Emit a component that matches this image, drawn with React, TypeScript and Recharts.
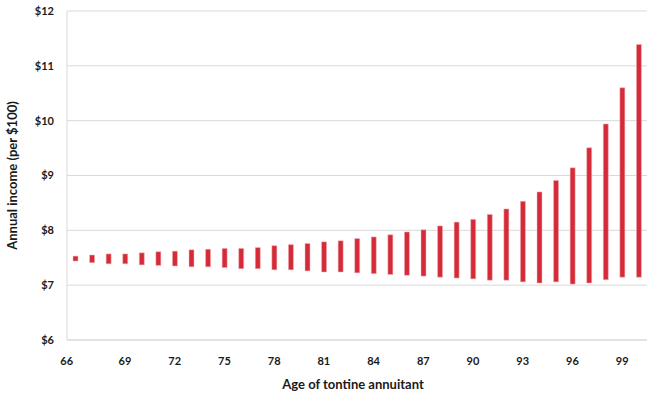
import React from 'react';
import { BarChart, Bar, XAxis, YAxis, CartesianGrid } from 'recharts';

const ages = [66,67,68,69,70,71,72,73,74,75,76,77,78,79,80,81,82,83,84,85,86,87,88,89,90,91,92,93,94,95,96,97,98,99,100];
const lows = [7.44,7.41,7.39,7.39,7.37,7.36,7.35,7.335,7.335,7.32,7.30,7.30,7.28,7.28,7.26,7.24,7.24,7.225,7.21,7.195,7.18,7.165,7.145,7.13,7.115,7.09,7.09,7.06,7.04,7.06,7.02,7.04,7.10,7.145,7.145];
const highs = [7.53,7.55,7.57,7.57,7.59,7.61,7.62,7.645,7.655,7.67,7.67,7.686,7.72,7.74,7.76,7.79,7.81,7.85,7.88,7.92,7.97,8.01,8.08,8.15,8.20,8.29,8.39,8.53,8.70,8.91,9.14,9.505,9.94,10.60,11.39];
const yTicks = [6,7,8,9,10,11,12];

const data = ages.map((age, i) => ({ age, range: [lows[i], highs[i]] }));

const FONT = 'Lato, "Open Sans", sans-serif';
const TXT = '#1a1a1a';

const XTick = (props: any) => {
  const { x, y, payload, index } = props;
  const shift = index === 0 ? -8.6 : 0;
  return (
    <text x={x + shift} y={y} dy="0.71em" textAnchor="middle" fontFamily={FONT} fontWeight={700} fontSize={11} fill={TXT}>
      {payload.value}
    </text>
  );
};

export default function App() {
  return (
    <div style={{ position: 'absolute', left: 0, top: 0, width: 660, height: 395, background: '#fff' }}>
      <BarChart width={660} height={395} data={data} margin={{ top: 11, right: 13, bottom: 0, left: 0 }} barCategoryGap={0}>
        <CartesianGrid vertical={false} stroke="#d9d9d9" strokeWidth={1} />
        <XAxis
          dataKey="age"
          interval={2}
          height={55}
          tickLine={false}
          axisLine={{ stroke: '#d9d9d9' }}
          tickMargin={11}
          tick={<XTick />}
          label={{ value: 'Age of tontine annuitant', position: 'insideBottom', offset: 6, dx: -4, style: { fontFamily: FONT, fontWeight: 700, fontSize: 13, fill: TXT } }}
        />
        <YAxis
          domain={[6, 12]}
          ticks={yTicks}
          width={67}
          tickLine={false}
          axisLine={{ stroke: '#d9d9d9' }}
          tickMargin={7}
          tickFormatter={(v: number) => `$${v}`}
          tick={{ fontFamily: FONT, fontWeight: 700, fontSize: 11, fill: TXT }}
          label={{ value: 'Annual income (per $100)', angle: -90, position: 'insideLeft', offset: 12, style: { textAnchor: 'middle', fontFamily: FONT, fontWeight: 700, fontSize: 13, fill: TXT } }}
        />
        <YAxis yAxisId="right" orientation="right" width={0} tick={false} tickLine={false} axisLine={{ stroke: '#d9d9d9' }} />
        <Bar dataKey="range" fill="#d52b38" stroke="#f2b5ba" strokeWidth={0.5} barSize={5} isAnimationActive={false} />
      </BarChart>
    </div>
  );
}
